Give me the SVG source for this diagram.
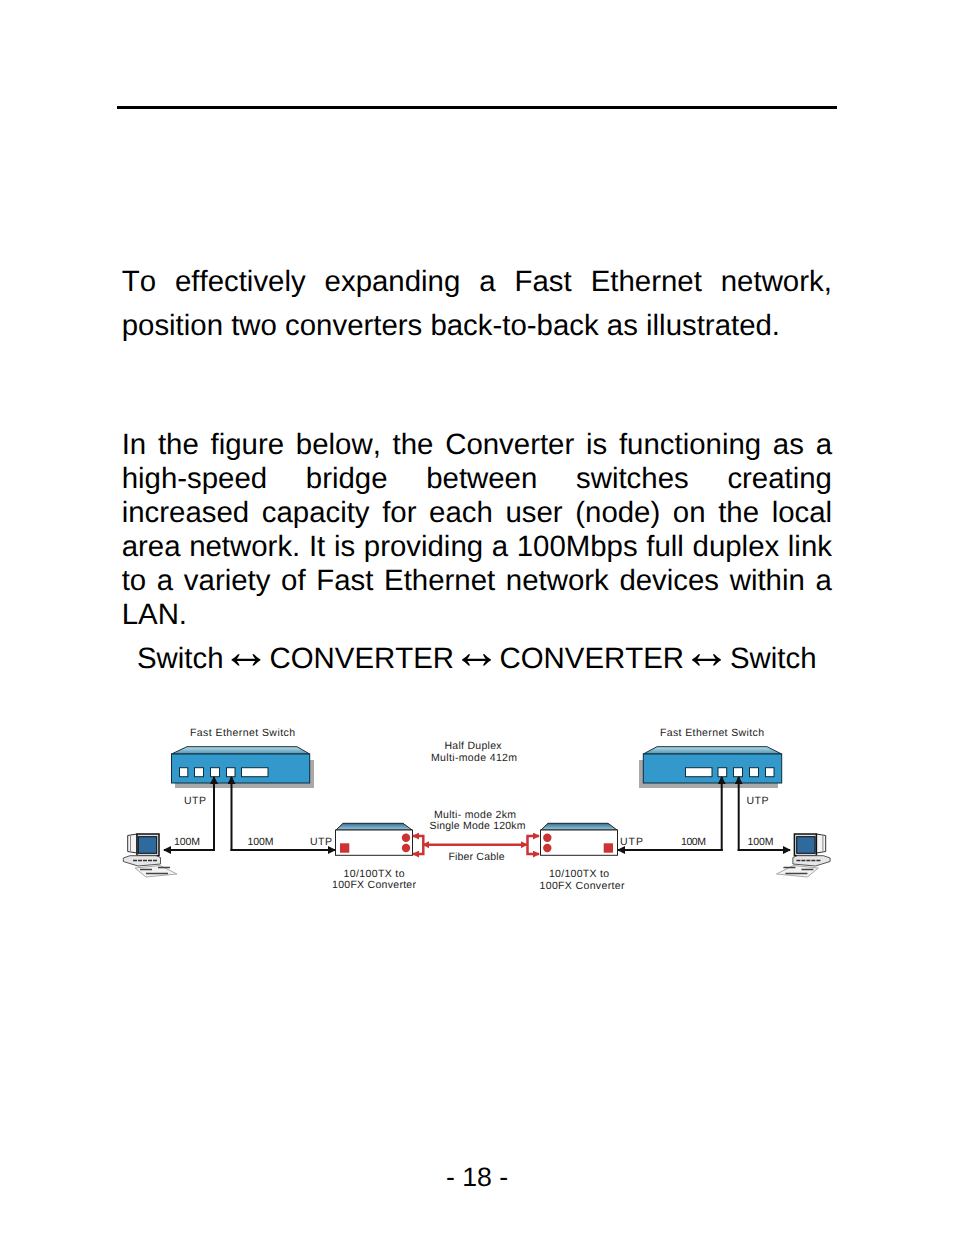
<svg xmlns="http://www.w3.org/2000/svg" width="954" height="1235" viewBox="0 0 954 1235">
<style>
text{font-family:"Liberation Sans",Arial,sans-serif;fill:#000;font-kerning:none;text-rendering:geometricPrecision}
.b{font-size:29.4px}
.a{font-size:49px}
.s{font-size:10.5px;fill:#222}
.m{text-anchor:middle}
.body{fill:#3399cc;stroke:#0b2f3c;stroke-width:1}
.top{fill:url(#tg);stroke:#1a2f38;stroke-width:1}
.shadow{fill:#a9a9a9}
.port{fill:#fff;stroke:#0b2f3c;stroke-width:1}
.conv{fill:#fff;stroke:#222;stroke-width:1}
.ctop{fill:url(#cg);stroke:#222;stroke-width:1}
.red{fill:#cc3333}
.l{fill:none;stroke:#111;stroke-width:2}
.f{fill:none;stroke:#cc3333;stroke-width:2.500}
</style>
<defs>
<marker id="ak" viewBox="0 0 8 8" refX="7" refY="4" markerWidth="8" markerHeight="8" markerUnits="userSpaceOnUse" orient="auto-start-reverse"><path d="M0 0L8 4L0 8Z" fill="#111"/></marker>
<marker id="ar" viewBox="0 0 8 8" refX="7" refY="4" markerWidth="7" markerHeight="7" markerUnits="userSpaceOnUse" orient="auto-start-reverse"><path d="M0 0L8 4L0 8Z" fill="#cc3333"/></marker>
<linearGradient id="tg" x1="0" y1="0" x2="0" y2="1"><stop offset="0" stop-color="#b9dde6"/><stop offset="1" stop-color="#4f93b8"/></linearGradient>
<linearGradient id="cg" x1="0" y1="0" x2="0" y2="1"><stop offset="0" stop-color="#2f7099"/><stop offset="1" stop-color="#a5cbdb"/></linearGradient>
<g id="pc">
<path d="M127.700 835.500L137 834V853L127.700 851.500Z" fill="#f4f4f4" stroke="#333" stroke-width="1"/>
<path d="M130.500 836V851" stroke="#888" stroke-width="1"/>
<rect x="137" y="834" width="22" height="21.700" fill="#e0e0e0" stroke="#111" stroke-width="1.500"/>
<rect x="138.300" y="836.700" width="18.400" height="16.600" fill="#2e6a9e" stroke="#0a0a0a" stroke-width="1"/>
<path d="M130 855.700H156L160.500 857.500V864L138 866L123.300 861.500V858Z" fill="#e6e6e6" stroke="#555" stroke-width="1"/>
<path d="M133 860.500H158" stroke="#333" stroke-width="1.500" stroke-dasharray="4 1"/>
<path d="M135 868L160 865.500L177 874L146 877Z" fill="#f2f2f2" stroke="#aaa" stroke-width="1"/>
<path d="M140 869.500H152M158 867.500H170M146 873.500H168" stroke="#444" stroke-width="1.500"/>
</g>
</defs>
<rect width="954" height="1235" fill="#fff"/>
<rect x="117" y="106" width="720" height="3" fill="#000"/>
<g id="body-text">
<text class="b" x="121.700" y="291" word-spacing="10.810">To effectively expanding a Fast Ethernet network,</text>
<text class="b" x="121.700" y="335">position two converters back-to-back as illustrated.</text>
<text class="b" x="121.700" y="454" word-spacing="3.590">In the figure below, the Converter is functioning as a</text>
<text class="b" x="121.700" y="488" word-spacing="30.520">high-speed bridge between switches creating</text>
<text class="b" x="121.700" y="522" word-spacing="4.460">increased capacity for each user (node) on the local</text>
<text class="b" x="121.700" y="556" word-spacing="0.500">area network. It is providing a 100Mbps full duplex link</text>
<text class="b" x="121.700" y="590" word-spacing="2.490">to a variety of Fast Ethernet network devices within a</text>
<text class="b" x="121.700" y="624">LAN.</text>
<text class="b" x="137" y="668">Switch</text>
<text class="a" x="221.500" y="668">↔</text>
<text class="b" x="269.500" y="668">CONVERTER</text>
<text class="a" x="452" y="668">↔</text>
<text class="b" x="499.500" y="668">CONVERTER</text>
<text class="a" x="682" y="668">↔</text>
<text class="b" x="730" y="668">Switch</text>
<text x="477" y="1186" text-anchor="middle" font-size="26.670">- 18 -</text>
</g>
<g id="switch-left">
<rect class="shadow" x="175" y="760" width="139" height="28"/>
<path class="top" d="M171.500 754L187 746.700H297L309.700 754Z"/>
<rect class="body" x="171.500" y="754" width="138.200" height="29"/>
<rect class="port" x="179.500" y="767.700" width="8.300" height="9"/>
<rect class="port" x="194.500" y="767.700" width="9" height="9"/>
<rect class="port" x="210.500" y="767.700" width="9" height="9"/>
<rect class="port" x="226.500" y="767.700" width="8.500" height="9"/>
<rect class="port" x="241.500" y="767.700" width="26.500" height="9"/>
</g>
<g id="switch-right">
<rect class="shadow" x="639" y="760" width="139" height="28"/>
<path class="top" d="M643.300 754L657 746.700H767L781.700 754Z"/>
<rect class="body" x="643.300" y="754" width="138.400" height="29"/>
<rect class="port" x="685.500" y="767.700" width="26.500" height="9"/>
<rect class="port" x="718" y="767.700" width="8.700" height="9"/>
<rect class="port" x="733.500" y="767.700" width="9" height="9"/>
<rect class="port" x="749.500" y="767.700" width="9" height="9"/>
<rect class="port" x="765.500" y="767.700" width="8.500" height="9"/>
</g>
<g id="converter-left">
<path class="ctop" d="M336 830L343 823.300H403L412 830Z"/>
<rect class="conv" x="335.500" y="830" width="77" height="25.300"/>
<rect class="red" x="340" y="843.300" width="9.300" height="9.400"/>
<circle class="red" cx="406" cy="837.700" r="4.200"/>
<circle class="red" cx="406" cy="848" r="4.200"/>
</g>
<g id="converter-right">
<path class="ctop" d="M541 830L548 823.300H608L617 830Z"/>
<rect class="conv" x="540.500" y="830" width="77" height="25.300"/>
<rect class="red" x="603.700" y="843.300" width="9.300" height="9.400"/>
<circle class="red" cx="547.300" cy="837.700" r="4.200"/>
<circle class="red" cx="547.300" cy="848" r="4.200"/>
</g>
<g id="pc-left"><use href="#pc"/></g>
<g id="pc-right"><use href="#pc" transform="translate(953.400 0) scale(-1 1)"/></g>
<g id="connectors">
<path class="l" d="M214 851V777" marker-end="url(#ak)"/>
<path class="l" d="M215 850H164" marker-end="url(#ak)"/>
<path class="l" d="M231.500 851V777" marker-end="url(#ak)"/>
<path class="l" d="M230.500 850H335" marker-end="url(#ak)"/>
<path class="l" d="M721.700 851V777" marker-end="url(#ak)"/>
<path class="l" d="M722.700 850H618" marker-end="url(#ak)"/>
<path class="l" d="M738.700 851V777" marker-end="url(#ak)"/>
<path class="l" d="M737.700 850H790" marker-end="url(#ak)"/>
<path class="f" d="M423 844.700H527" marker-start="url(#ar)" marker-end="url(#ar)"/>
<path class="f" d="M413 836H423.300V854H413" marker-start="url(#ar)" marker-end="url(#ar)"/>
<path class="f" d="M539 836H527.500V854H539" marker-start="url(#ar)" marker-end="url(#ar)"/>
</g>
<g id="labels">
<text class="s m" x="242.500" y="736" textLength="105">Fast Ethernet Switch</text>
<text class="s m" x="712" y="736" textLength="104">Fast Ethernet Switch</text>
<text class="s m" x="473" y="749" textLength="57">Half Duplex</text>
<text class="s m" x="474" y="761" textLength="86">Multi-mode 412m</text>
<text class="s m" x="475" y="818" textLength="82">Multi- mode 2km</text>
<text class="s m" x="477.500" y="829" textLength="96">Single Mode 120km</text>
<text class="s m" x="476.500" y="860" textLength="56">Fiber Cable</text>
<text class="s m" x="374" y="877" textLength="61">10/100TX to</text>
<text class="s m" x="374" y="888" textLength="84">100FX Converter</text>
<text class="s m" x="579" y="877" textLength="60">10/100TX to</text>
<text class="s m" x="582" y="889" textLength="85">100FX Converter</text>
<text class="s m" x="195" y="804" textLength="22">UTP</text>
<text class="s m" x="757.500" y="804" textLength="22">UTP</text>
<text class="s m" x="187" y="845" textLength="26">100M</text>
<text class="s m" x="260.500" y="845" textLength="26">100M</text>
<text class="s m" x="321" y="845" textLength="22">UTP</text>
<text class="s m" x="631.500" y="845" textLength="23">UTP</text>
<text class="s m" x="693.500" y="845" textLength="25">100M</text>
<text class="s m" x="760.500" y="845" textLength="26">100M</text>
</g>
</svg>
